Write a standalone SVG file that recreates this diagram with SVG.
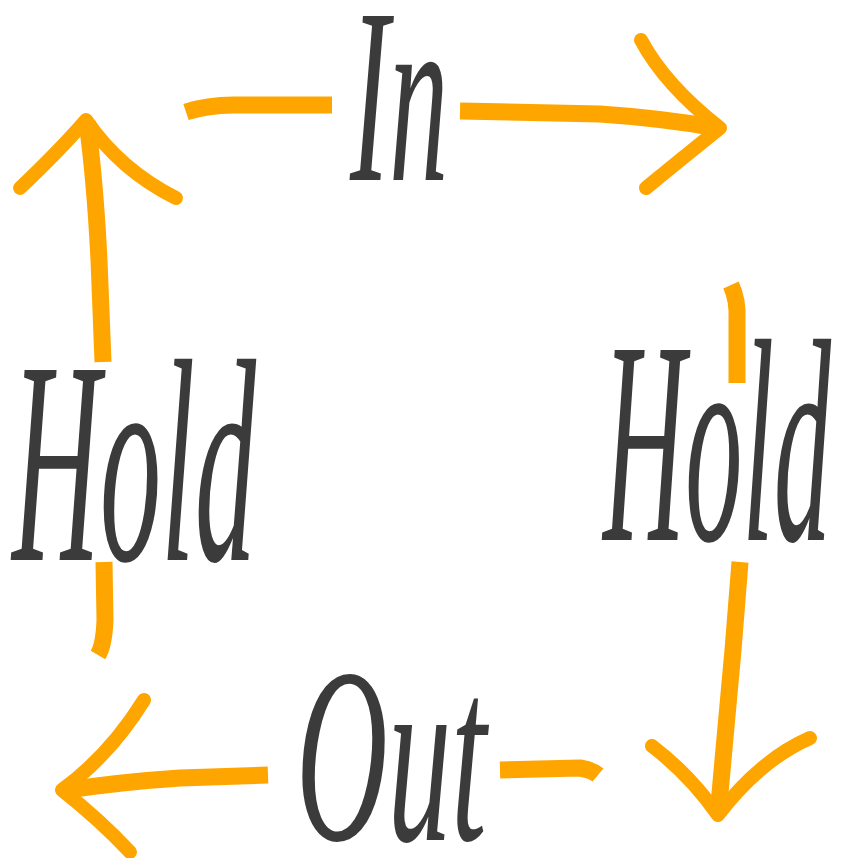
<svg xmlns="http://www.w3.org/2000/svg" width="855" height="858" viewBox="0 0 855 858">
  <style>
    .brush { fill: none; stroke: #FFA500; stroke-width: 17; stroke-linecap: butt; stroke-linejoin: round; }
    .wing { fill: none; stroke: #FFA500; stroke-width: 14; stroke-linecap: round; stroke-linejoin: round; }
    .label { font-family: "Liberation Serif", "DejaVu Serif", serif; font-style: italic; fill: #3b3b3b; }
  </style>
  <rect width="855" height="858" fill="#ffffff"/>
  <g id="connectors">
    <!-- top: In arrow -->
    <path class="brush" d="M186 112 Q210 104 240 105 L332 105"/>
    <path class="brush" d="M460 111 L600 114 Q660 118 718 128"/>
    <path class="wing" d="M641 40 Q665 85 720 128 Q680 160 646 188"/>
    <!-- right: Hold down arrow -->
    <path class="brush" d="M731 285 Q738 300 737 320 L737 383"/>
    <path class="brush" d="M740 562 L733 650 Q725 740 718 815"/>
    <path class="wing" d="M652 746 Q690 775 718 815 Q760 760 810 738"/>
    <!-- bottom: Out arrow -->
    <path class="brush" d="M500 770 L580 768 Q592 770 598 775"/>
    <path class="brush" d="M268 775 L180 778 Q120 782 68 790"/>
    <path class="wing" d="M144 700 Q110 755 62 790 Q100 820 130 852"/>
    <!-- left: Hold up arrow -->
    <path class="brush" d="M104 562 L105 620 Q104 645 98 655"/>
    <path class="brush" d="M103 362 L99 260 Q95 180 87 122"/>
    <path class="wing" d="M20 188 Q60 150 86 120 Q120 170 176 198"/>
  </g>
  <g id="node-in">
    <text class="label" transform="translate(350 180) scale(1 2.12)" font-size="118">In</text>
  </g>
  <g id="node-hold-left">
    <text class="label" transform="translate(12 560) scale(1 2.377)" font-size="122">Hold</text>
  </g>
  <g id="node-hold-right">
    <text class="label" transform="translate(603 540) scale(1 2.544)" font-size="114">Hold</text>
  </g>
  <g id="node-out">
    <text class="label" transform="translate(296 840) scale(1 1.97)" font-size="127">Out</text>
  </g>
</svg>
